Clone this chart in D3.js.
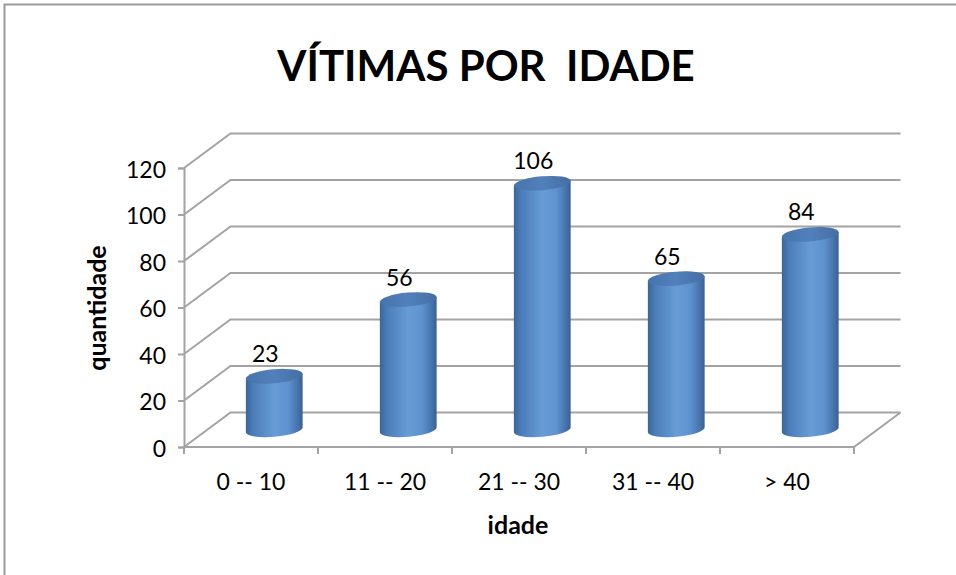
<!DOCTYPE html>
<html>
<head>
<meta charset="utf-8">
<script src="https://d3js.org/d3.v7.min.js"></script>
<style>
  body { margin: 0; background: #fff; }
  text { font-family: Lato, "Open Sans", sans-serif; fill: #000; }
</style>
</head>
<body>
<script>
var categories = ['0 -- 10', '11 -- 20', '21 -- 30', '31 -- 40', '> 40'];
var values = [23, 56, 106, 65, 84];
var yTicks = [0, 20, 40, 60, 80, 100, 120];

var W = 956, H = 575;
var depth = {dx: 46.5, dy: -34.5};

var svg = d3.select('body').append('svg')
    .attr('width', W)
    .attr('height', H);

var defs = svg.append('defs');
var body = defs.append('linearGradient').attr('id', 'cylBody')
    .attr('x1', 0).attr('x2', 1).attr('y1', 0).attr('y2', 0);
[[0, '#3b6598'], [0.12, '#4a7cb8'], [0.5, '#679cd7'], [0.75, '#5d92cf'], [0.92, '#4572aa'], [1, '#3a6192']]
    .forEach(s => body.append('stop').attr('offset', s[0]).attr('stop-color', s[1]));
var cap = defs.append('linearGradient').attr('id', 'cylCap')
    .attr('x1', 0).attr('x2', 1).attr('y1', 0).attr('y2', 0);
[[0, '#4674ad'], [0.5, '#5180ba'], [1, '#456ea4']]
    .forEach(s => cap.append('stop').attr('offset', s[0]).attr('stop-color', s[1]));

// frame
svg.append('path')
    .attr('d', 'M4.5,' + H + 'V4.5H' + W)
    .attr('fill', 'none')
    .attr('stroke', '#9a9a9a')
    .attr('stroke-width', 2);

var x = d3.scaleBand()
    .domain(categories)
    .range([184, 854]);

var y = d3.scaleLinear()
    .domain([0, 120])
    .range([447, 168]);

var gridColor = '#a3a3a3';
var grid = svg.append('g');

// gridlines on left wall and back wall
yTicks.forEach(t => {
    grid.append('path')
        .attr('d', 'M' + x.range()[0] + ',' + y(t) +
            'L' + (x.range()[0] + depth.dx) + ',' + (y(t) + depth.dy) +
            'H' + (x.range()[1] + depth.dx))
        .attr('fill', 'none')
        .attr('stroke', gridColor)
        .attr('stroke-width', 2);
});

// floor
grid.append('path')
    .attr('d', 'M' + x.range()[0] + ',' + y(0) + 'H' + x.range()[1] +
        'L' + (x.range()[1] + depth.dx) + ',' + (y(0) + depth.dy))
    .attr('fill', 'none')
    .attr('stroke', gridColor)
    .attr('stroke-width', 2);

// y axis
var yAxis = svg.append('g')
    .attr('transform', 'translate(' + x.range()[0] + ',0)')
    .call(d3.axisLeft(y).tickValues(yTicks).tickSize(6).tickPadding(12));
yAxis.select('.domain').attr('stroke', gridColor).attr('stroke-width', 2);
yAxis.selectAll('.tick line').attr('stroke', gridColor).attr('stroke-width', 2);
yAxis.selectAll('.tick text')
    .attr('font-size', 23)
    .attr('font-family', 'Lato, sans-serif')
    .attr('dy', '0.4em');

// x axis
var xAxis = svg.append('g')
    .attr('transform', 'translate(0,' + y(0) + ')')
    .call(d3.axisBottom(x).tickSize(0).tickPadding(27));
xAxis.select('.domain').remove();
xAxis.selectAll('.tick text')
    .attr('font-size', 23)
    .attr('font-family', 'Lato, sans-serif');
var xEdges = categories.map(c => x(c)).concat([x.range()[1]]);
xAxis.selectAll('line.edge')
    .data(xEdges)
    .enter().append('line')
    .attr('class', 'edge')
    .attr('x1', d => d).attr('x2', d => d)
    .attr('y1', 0).attr('y2', 7)
    .attr('stroke', gridColor)
    .attr('stroke-width', 2);

// cylinders
var rx = 28.5, ry = 7, rot = -5;
var th = rot * Math.PI / 180;
var ex = rx * Math.cos(th), ey = rx * Math.sin(th);

var bars = svg.selectAll('g.bar')
    .data(categories.map((c, i) => ({cat: c, value: values[i]})))
    .enter().append('g')
    .attr('class', 'bar');

bars.each(function(d) {
    var g = d3.select(this);
    var cx = x(d.cat) + x.bandwidth() / 2 + depth.dx / 2;
    var base = y(0) + depth.dy / 2;
    var top = y(d.value) + depth.dy / 2;
    g.append('path')
        .attr('d', 'M' + (cx - ex) + ',' + (top - ey) +
            'L' + (cx - ex) + ',' + (base - ey) +
            'A' + rx + ',' + ry + ' ' + rot + ' 0 0 ' + (cx + ex) + ',' + (base + ey) +
            'L' + (cx + ex) + ',' + (top + ey) + 'Z')
        .attr('fill', 'url(#cylBody)');
    g.append('ellipse')
        .attr('cx', cx).attr('cy', top)
        .attr('rx', rx).attr('ry', ry)
        .attr('transform', 'rotate(' + rot + ',' + cx + ',' + top + ')')
        .attr('fill', 'url(#cylCap)');
    g.append('text')
        .attr('x', cx - 9)
        .attr('y', top - 14)
        .attr('text-anchor', 'middle')
        .attr('font-size', 23)
        .text(d.value);
});

// titles
svg.append('text')
    .attr('x', 486)
    .attr('y', 81)
    .attr('text-anchor', 'middle')
    .attr('font-size', 42)
    .attr('font-weight', 'bold')
    .attr('xml:space', 'preserve')
    .style('white-space', 'pre')
    .text('VÍTIMAS POR  IDADE');

svg.append('text')
    .attr('x', 518)
    .attr('y', 534)
    .attr('text-anchor', 'middle')
    .attr('font-size', 25)
    .attr('font-weight', 'bold')
    .text('idade');

svg.append('text')
    .attr('transform', 'translate(106,308) rotate(-90)')
    .attr('text-anchor', 'middle')
    .attr('font-size', 25)
    .attr('font-weight', 'bold')
    .text('quantidade');
</script>
</body>
</html>
